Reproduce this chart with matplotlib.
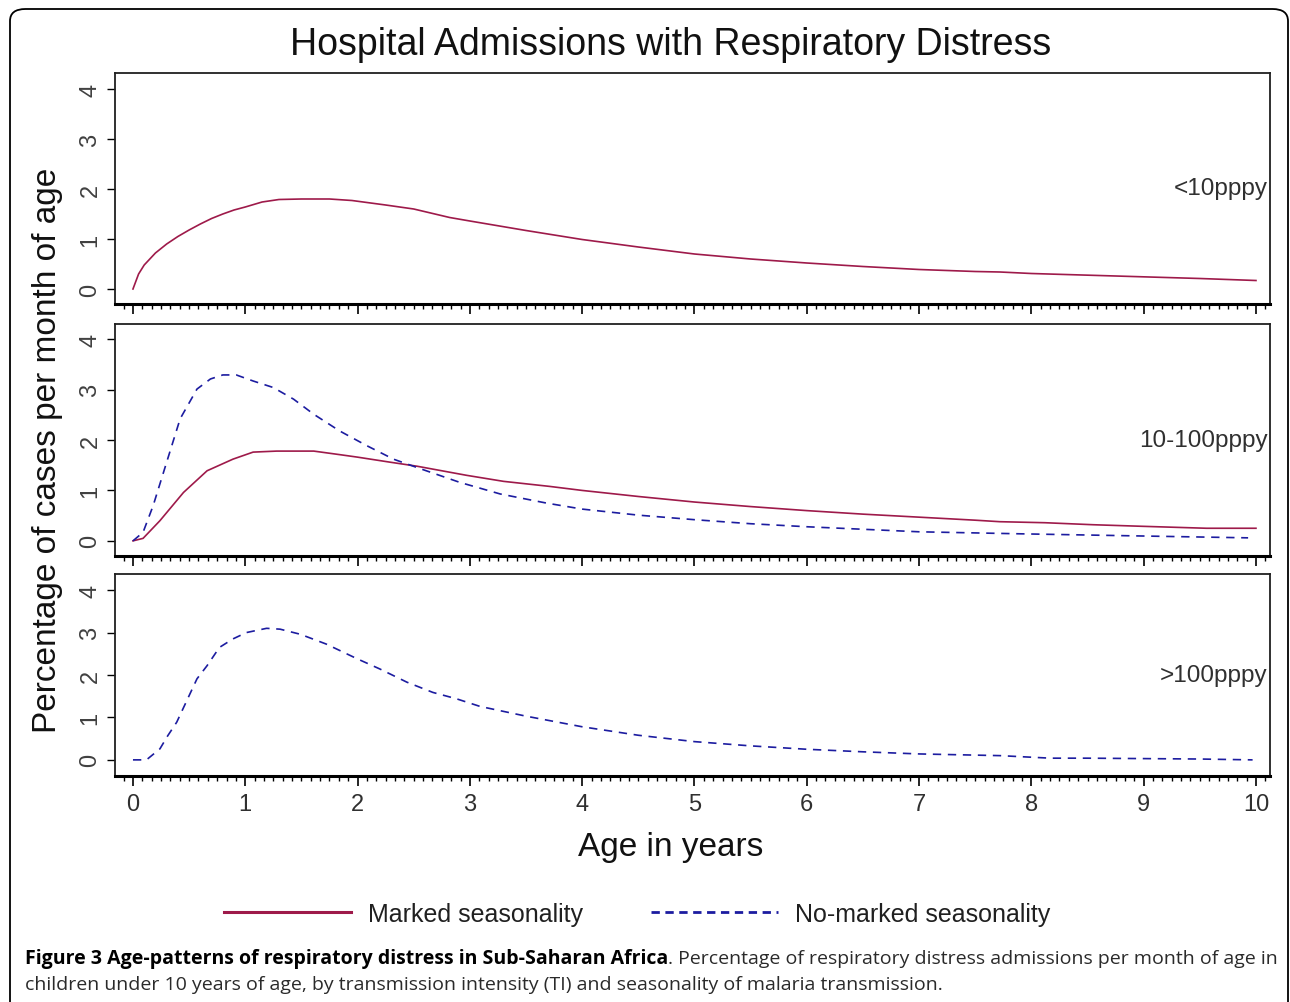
import matplotlib
matplotlib.use('Agg')
import matplotlib.pyplot as plt
from matplotlib.lines import Line2D
from matplotlib.patches import FancyBboxPatch
from matplotlib.ticker import MultipleLocator

plt.rcParams['font.family'] = ['Liberation Sans', 'DejaVu Sans']

# ---- data (age in years, % of cases per month of age)
low_age = [0, 0.05, 0.1, 0.2, 0.3, 0.4, 0.5, 0.6, 0.7, 0.8, 0.9, 1.0, 1.15, 1.3,
           1.5, 1.75, 1.95, 2.25, 2.5, 2.82, 3.0, 3.5, 4.0, 4.5, 5.0, 5.5, 6.0,
           6.5, 7.0, 7.5, 7.72, 8.0, 8.6, 9.2, 9.5, 10.0]
low_marked = [0, 0.3, 0.48, 0.72, 0.9, 1.05, 1.18, 1.3, 1.41, 1.5, 1.58, 1.64,
              1.74, 1.79, 1.8, 1.8, 1.77, 1.68, 1.6, 1.43, 1.36, 1.17, 0.99,
              0.84, 0.7, 0.6, 0.52, 0.45, 0.39, 0.35, 0.34, 0.31, 0.27, 0.23,
              0.21, 0.17]

mid_age_m = [0, 0.09, 0.24, 0.45, 0.66, 0.89, 1.07, 1.28, 1.61, 1.84, 2.0, 2.29,
             2.53, 2.97, 3.3, 3.71, 4.0, 4.5, 5.0, 5.5, 6.0, 6.5, 7.0, 7.5,
             7.72, 8.12, 8.55, 8.97, 9.56, 10.0]
mid_marked = [0, 0.05, 0.4, 0.96, 1.39, 1.62, 1.76, 1.78, 1.78, 1.71, 1.66, 1.56,
              1.48, 1.3, 1.18, 1.08, 1.0, 0.88, 0.77, 0.68, 0.6, 0.53, 0.47,
              0.41, 0.38, 0.36, 0.32, 0.29, 0.25, 0.25]
mid_age_n = [0, 0.09, 0.18, 0.3, 0.42, 0.57, 0.69, 0.8, 0.92, 1.07, 1.25, 1.43,
             1.61, 1.84, 2.08, 2.32, 2.56, 2.91, 3.27, 3.68, 4.0, 4.5, 5.0, 5.5,
             6.0, 6.5, 7.0, 7.9, 8.9, 9.93]
mid_nomarked = [0, 0.17, 0.7, 1.56, 2.42, 3.01, 3.21, 3.29, 3.29, 3.17, 3.04,
                2.81, 2.51, 2.18, 1.89, 1.62, 1.43, 1.16, 0.93, 0.75, 0.63, 0.51,
                0.42, 0.34, 0.28, 0.23, 0.18, 0.14, 0.1, 0.06]

high_age = [0, 0.12, 0.24, 0.31, 0.39, 0.48, 0.57, 0.66, 0.77, 0.89, 1.01, 1.19,
            1.31, 1.49, 1.72, 1.99, 2.2, 2.44, 2.67, 2.88, 3.09, 3.5, 4.0, 4.5,
            5.0, 5.5, 6.0, 6.5, 7.0, 7.72, 8.17, 8.5, 9.0, 9.5, 9.97]
high_nomarked = [0, 0, 0.26, 0.57, 0.89, 1.4, 1.91, 2.22, 2.65, 2.85, 3.0, 3.1,
                 3.08, 2.96, 2.73, 2.39, 2.14, 1.83, 1.59, 1.44, 1.26, 1.03, 0.78,
                 0.58, 0.43, 0.33, 0.25, 0.19, 0.14, 0.1, 0.04, 0.04, 0.03, 0.02,
                 0.0]

panel_names = ['<10pppy', '10-100pppy', '>100pppy']
x_ticks = list(range(0, 11))
y_ticks = [0, 1, 2, 3, 4]

MARKED = '#9E1A4A'
NOMARKED = '#1C1CA0'

W, H = 1290, 1003
fig = plt.figure(figsize=(W / 100, H / 100), dpi=100)


def fx(px):
    return px / W


def fy(py):
    return 1 - py / H


# outer rounded frame
frame = FancyBboxPatch((fx(10), fy(1040)), fx(1288) - fx(10), fy(10) - fy(1040),
                       boxstyle='round,pad=0,rounding_size=0.012',
                       transform=fig.transFigure, fill=False, lw=1.3,
                       edgecolor='black', clip_on=False)
fig.add_artist(frame)

# panel boxes: (top px, bottom px, ylim)
boxes = [(74, 305, (-0.3, 4.32)), (325, 557, (-0.3, 4.3)), (575, 777, (-0.38, 4.38))]
axes = []
for top, bot, ylim in boxes:
    ax = fig.add_axes([fx(115), fy(bot), fx(1270) - fx(115), (bot - top) / H])
    ax.set_xlim(-0.16, 10.125)
    ax.set_ylim(*ylim)
    ax.set_xticks(x_ticks)
    ax.xaxis.set_minor_locator(MultipleLocator(1 / 12))
    ax.set_yticks(y_ticks)
    ax.tick_params(axis='x', which='major', length=7.5, width=1.2, direction='out')
    ax.tick_params(axis='x', which='minor', length=3.8, width=1.0, direction='out')
    ax.tick_params(axis='y', length=5.8, width=1.0, direction='out', pad=4)
    for lab in ax.get_yticklabels():
        lab.set_rotation(90)
        lab.set_va('center')
        lab.set_fontsize(17)
        lab.set_color('#404040')
    for s in ['top', 'left', 'right']:
        ax.spines[s].set_linewidth(1.3)
        ax.spines[s].set_color('#202020')
    ax.spines['bottom'].set_linewidth(2.2)
    axes.append(ax)

ax_low, ax_mid, ax_high = axes
ax_low.plot(low_age, low_marked, color=MARKED, lw=1.2)
ax_mid.plot(mid_age_m, mid_marked, color=MARKED, lw=1.2)
ax_mid.plot(mid_age_n, mid_nomarked, color=NOMARKED, lw=1.2, dashes=(5, 4))
ax_high.plot(high_age, high_nomarked, color=NOMARKED, lw=1.2, dashes=(5, 4))

for ax, name in zip(axes, panel_names):
    ax.text(0.998, 0.5, name, transform=ax.transAxes, ha='right', va='center',
            fontsize=17.5, color='#303030')

ax_low.tick_params(axis='x', labelbottom=False)
ax_mid.tick_params(axis='x', labelbottom=False)
ax_high.tick_params(axis='x', labelsize=17, pad=5, labelcolor='#303030')

fig.text(fx(671), fy(45), 'Hospital Admissions with Respiratory Distress',
         ha='center', va='center', fontsize=27, color='#111111')
fig.text(fx(48), fy(450), 'Percentage of cases per month of age', rotation=90,
         ha='center', va='center', fontsize=24, color='#111111')
fig.text(fx(671), fy(848), 'Age in years', ha='center', va='center',
         fontsize=24, color='#111111')

handles = [Line2D([], [], color=MARKED, lw=2.2),
           Line2D([], [], color=NOMARKED, lw=2.0, dashes=(3, 2))]
fig.legend(handles, ['Marked seasonality', 'No-marked seasonality'],
           loc='center', bbox_to_anchor=(fx(637), fy(915)), ncol=2,
           frameon=False, fontsize=18, handlelength=5.1, handletextpad=0.68,
           columnspacing=2.7, labelcolor='#202020')

# caption
cap_font = ['Open Sans', 'DejaVu Sans']
bold = fig.text(fx(25), fy(959), 'Figure 3 Age-patterns of respiratory distress in Sub-Saharan Africa',
                ha='left', va='center', fontsize=14, fontweight='bold', family=cap_font)
fig.canvas.draw()
bb = bold.get_window_extent()
fig.text(bb.x1 / W, fy(959),
         '. Percentage of respiratory distress admissions per month of age in',
         ha='left', va='center', fontsize=14, family=cap_font, color='#2a2a2a')
fig.text(fx(25), fy(985),
         'children under 10 years of age, by transmission intensity (TI) and seasonality of malaria transmission.',
         ha='left', va='center', fontsize=14, family=cap_font, color='#2a2a2a')

fig.savefig('out.png', dpi=100)
